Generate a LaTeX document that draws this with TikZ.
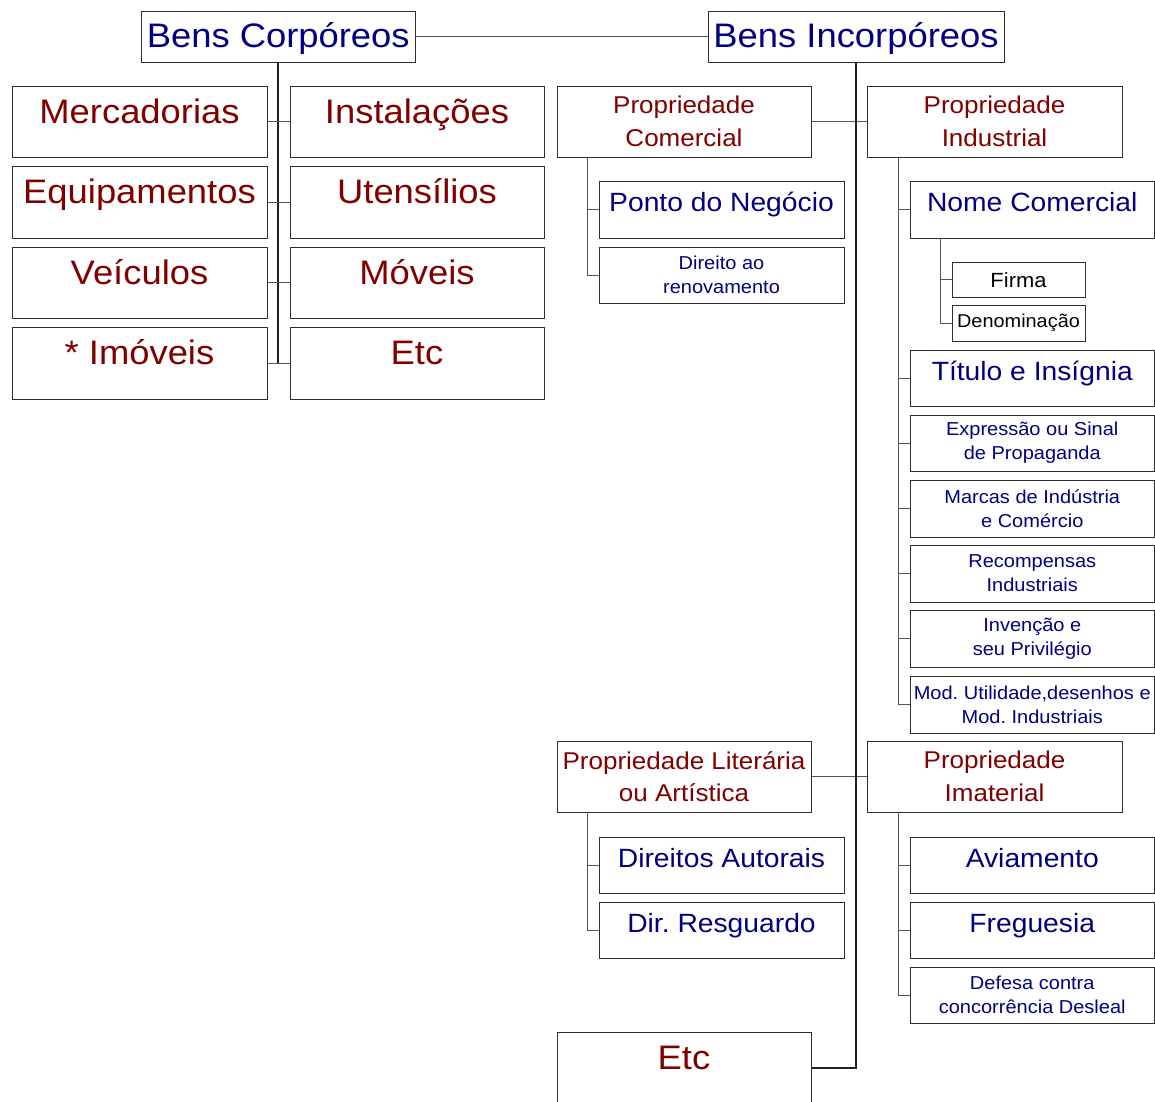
\documentclass[tikz,border=0pt]{standalone}
\usepackage{fontspec}
\setmainfont{Liberation Sans}[FakeStretch=1.07]
\usetikzlibrary{calc}
\frenchspacing
\definecolor{dred}{RGB}{128,0,0}
\definecolor{navyb}{RGB}{0,0,128}
\definecolor{boxcol}{RGB}{45,45,45}
\definecolor{trunkcol}{RGB}{40,28,20}
\definecolor{stubcol}{RGB}{90,82,76}
\newcommand\bxtop[8]{\pgfmathsetmacro\bxdep{#6-#4-#7}%
  \node[#2,minimum width={#5pt-#3pt},minimum height={#6pt-#4pt},text height=#7pt,text depth=\bxdep pt] (#1) at ({(#3+#5)/2},{(#4+#6)/2}) {#8};}
\newcommand\bxmid[7]{%
  \node[#2,minimum width={#5pt-#3pt},minimum height={#6pt-#4pt}] (#1) at ({(#3+#5)/2},{(#4+#6)/2}) {#7};}
\tikzset{
  bx/.style={draw=boxcol, line width=0.9pt, inner sep=0pt, align=center},
  hugeb/.style={bx, text=navyb, font=\fontsize{34}{40}\selectfont},
  huger/.style={bx, text=dred, font=\fontsize{34}{40}\selectfont},
  propr/.style={bx, text=dred, font=\fontsize{24.3}{32.5}\selectfont},
  medb/.style={bx, text=navyb, font=\fontsize{26.4}{32}\selectfont},
  smallb/.style={bx, text=navyb, font=\fontsize{18.7}{24}\selectfont},
  firmab/.style={bx, text=black, font=\fontsize{20.5}{24}\selectfont},
  denb/.style={bx, text=black, font=\fontsize{18.6}{24}\selectfont},
  conn/.style={draw=stubcol, line width=1pt},
  stub/.style={draw=stubcol, line width=1pt},
  trunk/.style={draw=trunkcol, line width=1.6pt},
  maintrunk/.style={draw=trunkcol, line width=2pt},
}
\begin{document}
\begin{tikzpicture}[x=1pt,y=-1pt]
\useasboundingbox (0,0) rectangle (1155,1101);
\clip (0,0) rectangle (1155,1101);
% top
\bxtop{bc}{hugeb}{141.5}{11}{415}{62}{36}{Bens Corpóreos}
\bxtop{bi}{hugeb}{708}{11}{1004}{62}{36}{Bens Incorpóreos}
% left grid
\bxtop{m1}{huger}{12}{86}{267}{157}{37}{Mercadorias}
\bxtop{m2}{huger}{290}{86}{544}{157}{37}{Instalações}
\bxtop{m3}{huger}{12}{166}{267}{238}{37}{Equipamentos}
\bxtop{m4}{huger}{290}{166}{544}{238}{37}{Utensílios}
\bxtop{m5}{huger}{12}{247}{267}{318}{37}{Veículos}
\bxtop{m6}{huger}{290}{247}{544}{318}{37}{Móveis}
\bxtop{m7}{huger}{12}{327}{267}{399}{37}{* Imóveis}
\bxtop{m8}{huger}{290}{327}{544}{399}{37}{Etc}
% right side
\bxmid{pc}{propr}{557}{86}{811}{157}{Propriedade\\Comercial}
\bxmid{pi}{propr}{867}{86}{1122}{157}{Propriedade\\Industrial}
\bxtop{pn}{medb}{599}{181}{844}{238}{30.5}{Ponto do Negócio}
\bxmid{dr}{smallb}{599}{247}{844}{303}{Direito ao\\renovamento}
\bxtop{nc}{medb}{910}{181}{1154.5}{238}{30.5}{Nome Comercial}
\bxtop{fi}{firmab}{952}{262}{1085}{297}{25}{Firma}
\bxtop{de}{denb}{952}{305}{1085}{341}{22.5}{Denominação}
\bxtop{ti}{medb}{910}{350}{1154.5}{406}{30}{Título e Insígnia}
\bxmid{ex}{smallb}{910}{415}{1154.5}{471}{Expressão ou Sinal\\de Propaganda}
\bxmid{ma}{smallb}{910}{480}{1154.5}{537}{Marcas de Indústria\\e Comércio}
\bxmid{re}{smallb}{910}{545}{1154.5}{602}{Recompensas\\Industriais}
\bxmid{iv}{smallb}{910}{610}{1154.5}{667}{Invenção e\\seu Privilégio}
\bxmid{mo}{smallb}{910}{676}{1154.5}{733}{Mod. Utilidade,desenhos e\\Mod. Industriais}
\bxmid{pl}{propr}{557}{741}{811}{812}{Propriedade Literária\\ou Artística}
\bxmid{pm}{propr}{867}{741}{1122}{812}{Propriedade\\Imaterial}
\bxtop{da}{medb}{599}{837}{844}{893}{30}{Direitos Autorais}
\bxtop{rg}{medb}{599}{902}{844}{958}{30}{Dir. Resguardo}
\bxtop{av}{medb}{910}{837}{1154.5}{893}{30}{Aviamento}
\bxtop{fr}{medb}{910}{902}{1154.5}{958}{30}{Freguesia}
\bxmid{df}{smallb}{910}{967}{1154.5}{1023}{Defesa contra\\concorrência Desleal}
\bxtop{et}{huger}{557}{1032}{811}{1104}{37}{Etc}
% connectors
\draw[conn] (bc) -- (bi);
\draw[trunk] (bc.south) -- (bc.south |- m7.east);
\foreach \a/\b in {m1/m2,m3/m4,m5/m6,m7/m8} \draw[stub] (\a.east) -- (\b.west);
\draw[stub] (pc.east) -- (pi.west);
\draw[stub] (pl.east) -- (pm.west);
\draw[maintrunk] (bi.south) |- (et.east);
\foreach \c in {pn,dr} \draw[stub] ([xshift=31pt]pc.south west) |- (\c.west);
\foreach \c in {nc,ti,ex,ma,re,iv,mo} \draw[stub] ([xshift=32pt]pi.south west) |- (\c.west);
\foreach \c in {fi,de} \draw[stub] ([xshift=30.5pt]nc.south west) |- (\c.west);
\foreach \c in {da,rg} \draw[stub] ([xshift=31pt]pl.south west) |- (\c.west);
\foreach \c in {av,fr,df} \draw[stub] ([xshift=32pt]pm.south west) |- (\c.west);
\end{tikzpicture}
\end{document}
